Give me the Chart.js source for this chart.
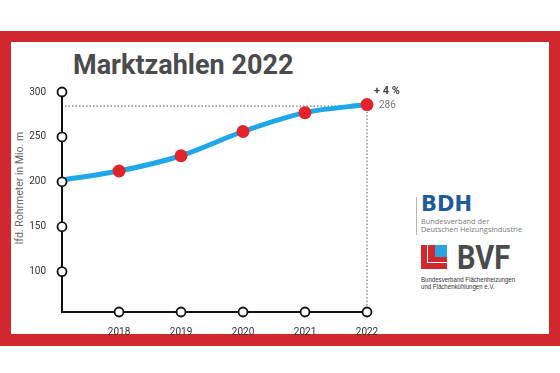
<!DOCTYPE html>
<html>
<head>
<meta charset="utf-8">
<script src="https://cdn.jsdelivr.net/npm/chart.js@4/dist/chart.umd.min.js"></script>
<style>
  body { margin: 0; background: #fff; }
  #wrap { position: relative; width: 560px; height: 373px; overflow: hidden; background: #fff; }
  .frame { position: absolute; left: 0; top: 31px; width: 560px; height: 315px; box-sizing: border-box;
           border: 11px solid #d1282f; border-bottom-width: 12px; }
  canvas { position: absolute; left: 0; top: 0; }
  .title { position: absolute; left: 73px; top: 52px; font: 700 27px/27px Roboto, sans-serif; color: #4a4b4d; white-space: nowrap; }
  .ytitle { position: absolute; left: 19px; top: 188px; transform: translate(-50%, -50%) rotate(-90deg);
            font: 400 10.5px Roboto, sans-serif; color: #666; white-space: nowrap; }
  .bdh-bar { position: absolute; left: 416px; top: 197px; width: 1px; height: 38px; background: #b5b5b5; }
  .bdh { position: absolute; left: 421px; top: 194px; font: 700 21px/21px "DejaVu Sans", sans-serif; color: #1f5c9e; }
  .bdh-sub { position: absolute; left: 421px; top: 218px; font: 400 7.4px/7.6px "Open Sans", sans-serif; color: #7a7a7a; white-space: nowrap; }
  .bvf-icon { position: absolute; left: 421px; top: 245px; width: 26px; height: 24px; background: #d1282f; }
  .bvf-icon .blue { position: absolute; left: 14px; top: 0; width: 12px; height: 12px; background: #2aa3e0; }
  .bvf-icon .l { position: absolute; left: 6px; top: 0; width: 20px; height: 17px; border-left: 1.5px solid #fff; border-bottom: 1.5px solid #fff; }
  .bvf { position: absolute; left: 457px; top: 241px; font: 700 33px/33px Roboto, sans-serif; color: #4a4b4d;
         transform: scaleX(0.88); transform-origin: left top; }
  .bvf-sub { position: absolute; left: 421px; top: 276px; font: 400 7px/7.3px "Liberation Sans", sans-serif; color: #333; white-space: nowrap;
             transform: scaleX(0.87); transform-origin: left top; }
</style>
</head>
<body>
<div id="wrap">
  <div class="frame"></div>
  <div class="title">Marktzahlen 2022</div>
  <div class="ytitle">lfd. Rohrmeter in Mio. m</div>
  <div class="bdh-bar"></div>
  <div class="bdh">BDH</div>
  <div class="bdh-sub">Bundesverband der<br>Deutschen Heizungsindustrie</div>
  <div class="bvf-icon"><div class="l"></div><div class="blue"></div></div>
  <div class="bvf">BVF</div>
  <div class="bvf-sub">Bundesverband Flächenheizungen<br>und Flächenkühlungen e.V.</div>
  <canvas id="chart" width="560" height="373"></canvas>
</div>
<script>
// Marktzahlen 2022 — laufende Rohrmeter (Mio. m)

const years = [2018, 2019, 2020, 2021, 2022];
const values = [212, 229, 256, 277, 286];
const startValue = 202;          // where the line meets the y axis
const yTicks = [100, 150, 200, 250, 300];
const changeLabel = '+ 4 %';

const X_MIN = 2017.08;
const Y_MIN = 55;
const Y_MAX = 300;

const lineData = [{ x: X_MIN, y: startValue }]
  .concat(years.map((yr, i) => ({ x: yr, y: values[i] })));

function ring(ctx, x, y) {
  ctx.beginPath();
  ctx.arc(x, y, 4.5, 0, Math.PI * 2);
  ctx.fillStyle = '#fff';
  ctx.fill();
  ctx.lineWidth = 1.8;
  ctx.strokeStyle = '#111';
  ctx.stroke();
}

const decorations = {
  id: 'decorations',
  beforeDatasetsDraw(chart) {
    const { ctx, scales: { x, y } } = chart;
    const px = x.getPixelForValue(years[years.length - 1]);
    const py = y.getPixelForValue(values[values.length - 1]);
    ctx.save();
    ctx.setLineDash([1.5, 2]);
    ctx.strokeStyle = '#555';
    ctx.lineWidth = 1;
    ctx.beginPath();
    ctx.moveTo(x.left + 3, py + 1.5);
    ctx.lineTo(px, py + 1.5);
    ctx.moveTo(px, py);
    ctx.lineTo(px, y.bottom);
    ctx.stroke();
    ctx.restore();
  },
  afterDatasetsDraw(chart) {
    const { ctx, scales: { x, y } } = chart;
    ctx.save();
    yTicks.forEach(v => ring(ctx, x.left, y.getPixelForValue(v)));
    years.forEach(yr => ring(ctx, x.getPixelForValue(yr), y.bottom));

    const px = x.getPixelForValue(years[years.length - 1]);
    const py = y.getPixelForValue(values[values.length - 1]);
    ctx.textBaseline = 'middle';
    ctx.textAlign = 'left';
    ctx.fillStyle = '#444';
    ctx.font = '700 11px Roboto, sans-serif';
    ctx.fillText(changeLabel, px + 7, py - 13);
    ctx.fillStyle = '#777';
    ctx.font = '400 10px Roboto, sans-serif';
    ctx.fillText(String(values[values.length - 1]), px + 12, py + 1);
    ctx.restore();
  }
};

new Chart(document.getElementById('chart'), {
  type: 'line',
  data: {
    datasets: [{
      data: lineData,
      borderColor: '#1ea8ea',
      borderWidth: 5,
      cubicInterpolationMode: 'monotone',
      pointRadius: ctx => ctx.dataIndex === 0 ? 0 : 6.5,
      pointBackgroundColor: '#e3232c',
      pointBorderWidth: 0,
      clip: false,
    }]
  },
  options: {
    responsive: false,
    animation: false,
    layout: { padding: { top: 92, right: 193, bottom: 0, left: 0 } },
    scales: {
      x: {
        type: 'linear',
        min: X_MIN,
        max: 2022,
        afterFit: s => { s.height = 61; },
        afterBuildTicks: s => { s.ticks = years.map(v => ({ value: v })); },
        grid: { display: false },
        border: { display: true, color: '#111', width: 2 },
        ticks: {
          padding: 6,
          color: '#333',
          font: { family: 'Roboto', size: 10 },
          callback: v => String(v),
        }
      },
      y: {
        min: Y_MIN,
        max: Y_MAX,
        afterFit: s => { s.width = 62; },
        afterBuildTicks: s => { s.ticks = yTicks.map(v => ({ value: v })); },
        grid: { display: false },
        border: { display: true, color: '#111', width: 2 },
        ticks: {
          padding: 8,
          color: '#333',
          font: { family: 'Roboto', size: 10 },
        }
      }
    },
    plugins: {
      legend: { display: false },
      tooltip: { enabled: false },
    }
  },
  plugins: [decorations]
});
</script>
</body>
</html>
